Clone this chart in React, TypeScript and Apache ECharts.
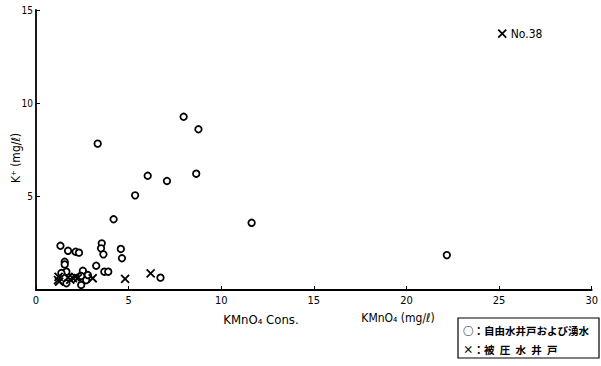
import React, { useEffect, useRef } from "react";
import * as echarts from "echarts";

const xTicks = [0, 5, 10, 15, 20, 25, 30];
const yTicks = [0, 5, 10, 15];

// ○ : free-water wells and springs  [KMnO4, K+]
const freeWells: number[][] = [
  [3.33, 7.84], [7.97, 9.28], [8.77, 8.61], [6.03, 6.12], [7.07, 5.84],
  [8.65, 6.23], [5.35, 5.07], [4.19, 3.79], [11.64, 3.6], [22.18, 1.87],
  [1.32, 2.37], [1.73, 2.1], [2.14, 2.05], [2.32, 2.0], [3.55, 2.5],
  [3.51, 2.23], [3.64, 1.91], [4.58, 2.2], [4.64, 1.7], [1.55, 1.51],
  [1.55, 1.37], [3.25, 1.3], [3.69, 0.98], [3.9, 0.98], [6.72, 0.66],
  [1.64, 0.98], [2.53, 1.03], [2.44, 0.75], [2.44, 0.27], [1.64, 0.36],
  [2.71, 0.53], [2.8, 0.8], [1.37, 0.91],
];

// × : confined-water wells  [KMnO4, K+]
const confinedWells: number[][] = [
  [25.17, 13.73], [1.19, 0.53], [1.22, 0.7], [1.25, 0.45], [4.81, 0.59],
  [6.19, 0.89], [3.06, 0.63], [1.73, 0.67], [1.99, 0.64], [2.26, 0.64],
  [1.85, 0.56], [2.12, 0.7],
];
const labelledPoint = "No.38";

const FONT = '"Liberation Sans Narrow", "DejaVu Sans Condensed", "Liberation Sans", sans-serif';
const CJK = '"Noto Sans CJK JP", sans-serif';
const CROSS = "path://M0,0L10,10M10,0L0,10";

export default function App() {
  const ref = useRef<HTMLDivElement>(null);
  useEffect(() => {
    if (!ref.current) return;
    const chart = echarts.init(ref.current, null, { renderer: "svg" });
    chart.setOption({
      animation: false,
      backgroundColor: "#fff",
      grid: { left: 36, right: 4, top: 10, bottom: 76 },
      xAxis: {
        type: "value",
        min: xTicks[0],
        max: xTicks[xTicks.length - 1],
        interval: 5,
        axisLine: { lineStyle: { color: "#000", width: 1.8 } },
        axisTick: { show: true, inside: true, length: 4, lineStyle: { color: "#000" } },
        axisLabel: { color: "#000", fontSize: 11, fontFamily: FONT, margin: 5 },
        splitLine: { show: false },
      },
      yAxis: {
        type: "value",
        min: yTicks[0],
        max: yTicks[yTicks.length - 1],
        interval: 5,
        axisLine: { show: true, lineStyle: { color: "#000", width: 1.8 } },
        axisTick: { show: true, inside: true, length: 4, lineStyle: { color: "#000" } },
        axisLabel: { color: "#000", fontSize: 10, fontFamily: FONT, margin: 3, showMinLabel: false },
        splitLine: { show: false },
      },
      series: [
        {
          name: "自由水井戸および湧水",
          type: "scatter",
          data: freeWells,
          symbol: "circle",
          symbolSize: 6.5,
          itemStyle: { color: "#fff", borderColor: "#000", borderWidth: 1.8, opacity: 1 },
        },
        {
          name: "被圧水井戸",
          type: "scatter",
          data: confinedWells.map((d, i) =>
            i === 0
              ? {
                  value: d,
                  label: {
                    show: true,
                    position: "right",
                    distance: 2,
                    formatter: labelledPoint,
                    color: "#000",
                    fontSize: 12,
                    fontFamily: FONT,
                  },
                }
              : d
          ),
          symbol: CROSS,
          symbolSize: 8,
          itemStyle: { color: "none", borderColor: "#000", borderWidth: 1.8, opacity: 1 },
        },
      ],
      graphic: [
        {
          type: "text",
          x: 16,
          y: 158,
          rotation: Math.PI / 2,
          style: {
            text: "K⁺ (mg/ℓ)",
            fill: "#000",
            font: `12px ${FONT}`,
            align: "center",
            verticalAlign: "middle",
          },
        },
        {
          type: "text",
          x: 261,
          y: 319,
          style: {
            text: "KMnO₄ Cons.",
            fill: "#000",
            font: `13px ${FONT}`,
            align: "center",
            verticalAlign: "middle",
          },
        },
        {
          type: "text",
          x: 398,
          y: 318,
          style: {
            text: "KMnO₄ (mg/ℓ)",
            fill: "#000",
            font: `12px ${FONT}`,
            align: "center",
            verticalAlign: "middle",
          },
        },
        {
          type: "rect",
          shape: { x: 458, y: 318, width: 141, height: 40 },
          style: { fill: "#fff", stroke: "#000", lineWidth: 1.2 },
        },
        {
          type: "text",
          x: 463,
          y: 330,
          style: {
            text: "○：自由水井戸および湧水",
            fill: "#000",
            font: `bold 10.5px ${CJK}`,
            verticalAlign: "middle",
          },
        },
        {
          type: "text",
          x: 463,
          y: 349,
          style: {
            text: "×：被\u2002圧\u2002水\u2002井\u2002戸",
            fill: "#000",
            font: `bold 10.5px ${CJK}`,
            verticalAlign: "middle",
          },
        },
      ],
    });
    return () => chart.dispose();
  }, []);
  return <div ref={ref} style={{ width: 601, height: 366, position: "absolute", left: 0, top: 0 }} />;
}
